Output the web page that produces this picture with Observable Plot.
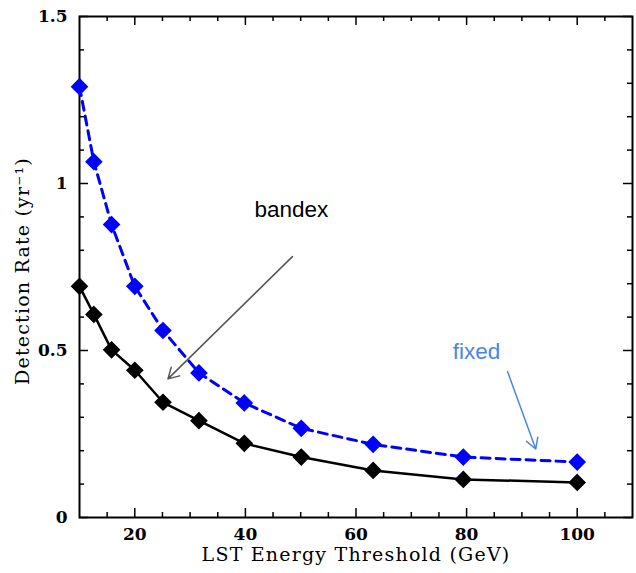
<!DOCTYPE html>
<html><head><meta charset="utf-8">
<script src="https://cdn.jsdelivr.net/npm/d3@7"></script>
<script src="https://cdn.jsdelivr.net/npm/@observablehq/plot@0.6"></script>
<style>body{margin:0;background:#fff}</style>
</head><body><div id="chart"></div>
<script>
const energy = [10, 12.6, 15.8, 20, 25.1, 31.6, 39.8, 50.1, 63.1, 79.4, 100];
const fixedRate = [1.29, 1.065, 0.877, 0.692, 0.56, 0.433, 0.343, 0.267, 0.219, 0.181, 0.166];
const bandexRate = [0.692, 0.608, 0.502, 0.441, 0.345, 0.29, 0.222, 0.181, 0.141, 0.114, 0.105];
const xMajor = [20, 40, 60, 80, 100];
const xMinor = [15, 25, 30, 35, 45, 50, 55, 65, 70, 75, 85, 90, 95, 105];
const yMajor = [0, 0.5, 1, 1.5];
const yMinor = [0.1, 0.2, 0.3, 0.4, 0.6, 0.7, 0.8, 0.9, 1.1, 1.2, 1.3, 1.4];
const yTickLabels = ["0", "0.5", "1", "1.5"];
const xTitle = "LST Energy Threshold (GeV)";
const yTitle = "Detection Rate (yr⁻¹)";
const labels = [{text: "bandex", x: 48.3, y: 0.922, color: "#000"}, {text: "fixed", x: 81.8, y: 0.497, color: "#4a86e8"}];
const arrows = [{x1: 48.5, y1: 0.781, x2: 26.0, y2: 0.415, color: "#555"}, {x1: 87.4, y1: 0.437, x2: 92.5, y2: 0.205, color: "#4a86e8"}];

const fixedData = energy.map((e, i) => ({e, v: fixedRate[i]}));
const bandexData = energy.map((e, i) => ({e, v: bandexRate[i]}));

const W = 636, H = 573, mt = 16, mb = 56, ml = 79, mr = 4;
const ph = H - mt - mb, pw = W - ml - mr;
const serif = "DejaVu Serif";

const chart = Plot.plot({
  width: W, height: H,
  marginTop: mt, marginBottom: mb, marginLeft: ml, marginRight: mr,
  style: {fontFamily: serif, background: "#fff"},
  x: {domain: [10, 110]},
  y: {domain: [0, 1.5]},
  marks: [
    // inward ticks on all four sides
    Plot.ruleX(xMajor, {x: d => d, insetTop: ph - 9, stroke: "#000", strokeWidth: 1.5}),
    Plot.ruleX(xMinor, {x: d => d, insetTop: ph - 5, stroke: "#000", strokeWidth: 1.5}),
    Plot.ruleX(xMajor, {x: d => d, insetBottom: ph - 9, stroke: "#000", strokeWidth: 1.5}),
    Plot.ruleX(xMinor, {x: d => d, insetBottom: ph - 5, stroke: "#000", strokeWidth: 1.5}),
    Plot.ruleY(yMajor, {y: d => d, insetRight: pw - 9, stroke: "#000", strokeWidth: 1.5}),
    Plot.ruleY(yMinor, {y: d => d, insetRight: pw - 5, stroke: "#000", strokeWidth: 1.5}),
    Plot.ruleY(yMajor, {y: d => d, insetLeft: pw - 9, stroke: "#000", strokeWidth: 1.5}),
    Plot.ruleY(yMinor, {y: d => d, insetLeft: pw - 5, stroke: "#000", strokeWidth: 1.5}),
    Plot.frame({stroke: "#000", strokeWidth: 2}),
    Plot.axisX(xMajor, {tickSize: 0, tickPadding: 10, fontSize: 17, fontWeight: "bold", label: null}),
    Plot.axisY(yMajor, {tickSize: 0, tickPadding: 12, fontSize: 17, fontWeight: "bold", label: null, tickFormat: (d) => yTickLabels[yMajor.indexOf(d)]}),
    Plot.text([xTitle], {frameAnchor: "bottom", dy: 43, fontSize: 19, fill: "#000", text: d => d, fontFamily: serif}),
    Plot.text([yTitle], {frameAnchor: "left", textAnchor: "middle", dx: -57, dy: 4, rotate: -90, fontSize: 19, fill: "#000", text: d => d, fontFamily: serif}),
    // series
    Plot.line(fixedData, {x: "e", y: "v", stroke: "#0000ff", strokeWidth: 3, strokeDasharray: "9,6"}),
    Plot.dot(fixedData, {x: "e", y: "v", symbol: "diamond2", r: 7, fill: "#0000ff", stroke: "#0000ff"}),
    Plot.line(bandexData, {x: "e", y: "v", stroke: "#000", strokeWidth: 2.5}),
    Plot.dot(bandexData, {x: "e", y: "v", symbol: "diamond2", r: 7, fill: "#000", stroke: "#000"}),
    // annotations
    Plot.arrow(arrows, {x1: "x1", y1: "y1", x2: "x2", y2: "y2", stroke: "color", strokeWidth: 1.5, headLength: 12}),
    Plot.text(labels, {x: "x", y: "y", text: "text", fill: "color", fontSize: 22.5, fontFamily: "Liberation Sans"})
  ]
});
d3.select(chart).selectAll("text")
  .filter(function() { return this.textContent === xTitle || this.textContent === yTitle; })
  .style("letter-spacing", "1.2px");
document.getElementById("chart").appendChild(chart);
</script>
</body></html>
